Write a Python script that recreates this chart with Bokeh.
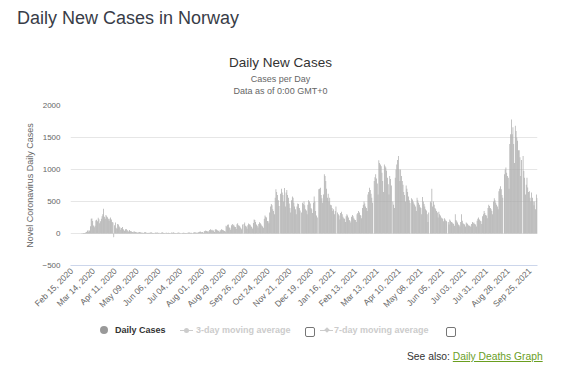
import math
from bokeh.plotting import figure
from bokeh.models import Range1d, FixedTicker, ColumnDataSource, Div
from bokeh.layouts import column
from bokeh.embed import file_html
from bokeh.resources import INLINE

# ---- data (one value per day starting Feb 15, 2020) ----
tick_labels = ["Feb 15, 2020", "Mar 14, 2020", "Apr 11, 2020", "May 09, 2020", "Jun 06, 2020",
               "Jul 04, 2020", "Aug 01, 2020", "Aug 29, 2020", "Sep 26, 2020", "Oct 24, 2020",
               "Nov 21, 2020", "Dec 19, 2020", "Jan 16, 2021", "Feb 13, 2021", "Mar 13, 2021",
               "Apr 10, 2021", "May 08, 2021", "Jun 05, 2021", "Jul 03, 2021", "Jul 31, 2021",
               "Aug 28, 2021", "Sep 25, 2021"]
tick_days = [0, 28, 56, 84, 112, 140, 168, 196, 224, 252, 280, 308, 336, 364, 392,
             420, 448, 476, 504, 532, 560, 588]
y_ticks = [-500, 0, 500, 1000, 1500, 2000]

daily_cases = [
    0, 0, 0, 0, 0, 0, 0,
    0, 0, 0, 0, 1, 0, 5,
    2, 7, 6, 8, 16, 22, 42,
    49, 29, 45, 115, 229, 233, 197,
    125, 98, 120, 205, 215, 190, 245,
    222, 160, 190, 230, 270, 300, 386,
    260, 230, 290, 270, 255, 230, 200,
    230, 250, 220, 180, 170, -60, 130,
    170, 90, 75, 150, 140, 110, 95,
    60, 85, 100, 70, 55, 40, 65,
    70, 50, 45, 30, 55, 40, 35,
    30, 25, 20, 35, 28, 22, 18,
    15, 10, 18, 25, 20, 14, 12,
    10, 8, 15, 22, 18, 12, 9,
    12, 6, 10, 14, 18, 11, 8,
    9, 5, 12, 16, 10, 14, 7,
    11, 4, 9, 13, 20, 15, 8,
    6, 3, 10, 12, 8, 11, 9,
    7, 2, 14, 10, 12, 18, 6,
    8, 3, 9, 11, 15, 10, 7,
    5, 2, 8, 12, 10, 9, 6,
    9, 4, 11, 14, 17, 12, 8,
    10, 5, 13, 20, 18, 15, 12,
    14, 8, 22, 28, 30, 25, 20,
    25, 12, 35, 40, 45, 38, 30,
    40, 20, 55, 65, 50, 58, 45,
    48, 25, 60, 70, 58, 52, 40,
    45, 22, 50, 65, 60, 55, 48,
    40, 30, 120, 110, 135, 140, 95,
    90, 60, 130, 150, 125, 135, 110,
    100, 70, 145, 160, 130, 120, 105,
    85, 65, 140, 0, 150, 170, 120,
    110, 75, 130, 155, 145, 135, 115,
    100, 80, 165, 220, 210, 180, 140,
    120, 95, 150, 175, 160, 140, 120,
    110, 90, 230, 280, 260, 250, 195,
    190, 160, 330, 420, 460, 440, 380,
    350, 300, 560, 690, 650, 600, 520,
    430, 0, 620, 700, 640, 600, 500,
    710, 420, 640, 680, 600, 560, 470,
    400, 330, 520, 580, 560, 480, 420,
    380, 300, 420, 470, 460, 400, 360,
    0, 330, 480, 460, 500, 440, 380,
    360, 300, 450, 520, 500, 470, 400,
    380, 320, 480, 580, 500, 350, 280,
    250, 0, 690, 700, 715, 600, 550,
    480, 610, 925, 900, 820, 700, 560,
    620, 500, 560, 450, 440, 400, 350,
    380, 300, 350, 420, 0, 330, 300,
    280, 220, 320, 340, 300, 260, 240,
    230, 180, 270, 300, 280, 250, 210,
    200, 170, 260, 290, 270, 240, 220,
    210, 180, 300, 320, 350, 330, 290,
    280, 240, 400, 450, 500, 470, 420,
    400, 350, 610, 650, 715, 680, 620,
    560, 480, 0, 820, 880, 925, 860,
    780, 610, 1145, 1100, 1080, 1050, 950,
    820, 650, 1080, 1050, 1030, 980, 870,
    770, 610, 900, 850, 750, 0, 500,
    450, 400, 870, 1000, 1080, 1150, 1210,
    1000, 820, 1000, 900, 820, 760, 650,
    600, 500, 750, 700, 650, 580, 520,
    480, 0, 550, 530, 500, 470, 450,
    420, 350, 560, 520, 480, 450, 410,
    400, 300, 570, 500, 460, 420, 380,
    360, 300, 180, 330, 0, 500, 480,
    700, 420, 500, 450, 400, 380, 350,
    330, 250, 340, 300, 280, 250, 240,
    230, 190, 240, 220, 200, 190, 0,
    180, 140, 220, 200, 180, 170, 160,
    150, 120, 300, 210, 190, 170, 140,
    130, 110, 180, 300, 200, 160, 150,
    140, 110, 170, 160, 150, 130, 120,
    120, 100, 150, 180, 160, 170, 150,
    140, 110, 200, 230, 250, 220, 200,
    190, 150, 270, 300, 350, 320, 290,
    280, 240, 400, 450, 430, 400, 380,
    350, 300, 500, 550, 520, 480, 450,
    420, 380, 660, 700, 740, 690, 600,
    560, 0, 925, 1000, 1030, 950, 900,
    870, 700, 1400, 1550, 1780, 1550, 1660,
    1400, 1100, 1685, 1600, 1500, 1450, 1300,
    1300, 1190, 900, 1150, 0, 1210, 975,
    870, 610, 760, 870, 720, 650, 660,
    560, 500, 640, 560, 500, 440, 500,
    380, 610, 555,
]
days = list(range(len(daily_cases)))

FONT = "Liberation Sans"
PAGE_W = 561
TOP_H = 100      # header block
FIG_H = 215      # chart (axes + bars)
BOT_H = 54       # legend + footer

# ---------------- header (page title + chart titles) ----------------
top_html = f"""
<div style="position:relative;width:{PAGE_W}px;height:{TOP_H}px;font-family:'{FONT}';">
  <div style="position:absolute;left:17px;top:8.8px;font-size:18px;line-height:18px;color:#383c47;white-space:nowrap;">Daily New Cases in Norway</div>
  <div style="position:absolute;left:0;width:{PAGE_W}px;top:56.1px;font-size:13.5px;line-height:13.5px;color:#333333;text-align:center;white-space:nowrap;">Daily New Cases</div>
  <div style="position:absolute;left:0;width:{PAGE_W}px;top:75.4px;font-size:9px;line-height:9px;color:#666666;text-align:center;white-space:nowrap;">Cases per Day</div>
  <div style="position:absolute;left:0;width:{PAGE_W}px;top:87.4px;font-size:9px;line-height:9px;color:#666666;text-align:center;white-space:nowrap;">Data as of 0:00 GMT+0</div>
</div>
"""
header = Div(text=top_html, width=PAGE_W, height=TOP_H, margin=0)

# ---------------- chart ----------------
source = ColumnDataSource(data=dict(day=days, cases=daily_cases))

p = figure(width=PAGE_W, height=FIG_H, output_backend="svg", toolbar_location=None, tools="",
           x_range=Range1d(-1.5, len(days) - 0.5), y_range=Range1d(-500, 2000),
           min_border_left=70, min_border_right=24, min_border_top=5, min_border_bottom=50)
p.outline_line_color = None
p.background_fill_color = "white"
p.border_fill_color = "white"
p.margin = 0

p.vbar(x="day", top="cases", bottom=0, width=0.9, source=source,
       fill_color="#a9a9a9", line_color=None)

p.xgrid.grid_line_color = None
p.ygrid.grid_line_color = "#e6e6e6"
p.yaxis.ticker = FixedTicker(ticks=y_ticks)
p.yaxis.axis_line_color = None
p.yaxis.major_tick_line_color = None
p.yaxis.minor_tick_line_color = None
p.yaxis.major_tick_out = 0
p.yaxis.major_label_standoff = 10
p.yaxis.major_label_text_font = FONT
p.yaxis.major_label_text_font_size = "8px"
p.yaxis.major_label_text_color = "#666666"
p.yaxis.axis_label = "Novel Coronavirus Daily Cases"
p.yaxis.axis_label_text_font = FONT
p.yaxis.axis_label_text_font_size = "9px"
p.yaxis.axis_label_text_font_style = "normal"
p.yaxis.axis_label_text_color = "#666666"
p.yaxis.axis_label_standoff = 4

p.xaxis.ticker = FixedTicker(ticks=tick_days)
p.xaxis.major_label_overrides = {d: t for d, t in zip(tick_days, tick_labels)}
p.xaxis.major_label_orientation = math.pi / 4
p.xaxis.axis_line_color = "#ccd6eb"
p.xaxis.major_tick_line_color = None
p.xaxis.minor_tick_line_color = None
p.xaxis.major_tick_out = 0
p.xaxis.major_label_standoff = 4
p.xaxis.major_label_text_font = FONT
p.xaxis.major_label_text_font_size = "8.5px"
p.xaxis.major_label_text_color = "#666666"

# ---------------- legend + footer ----------------
bot_html = f"""
<div style="position:relative;width:{PAGE_W}px;height:{BOT_H}px;font-family:'{FONT}';">
  <div style="position:absolute;left:100px;top:11px;width:8px;height:8px;border-radius:50%;background:#999999;"></div>
  <div style="position:absolute;left:115px;top:10.9px;font-size:9px;line-height:9px;font-weight:bold;color:#333333;white-space:nowrap;">Daily Cases</div>

  <div style="position:absolute;left:180px;top:14.5px;width:13px;height:1px;background:#cccccc;"></div>
  <div style="position:absolute;left:184px;top:12.5px;width:5px;height:5px;border-radius:50%;background:#cccccc;"></div>
  <div style="position:absolute;left:196px;top:10.9px;font-size:9px;line-height:9px;font-weight:bold;color:#cccccc;white-space:nowrap;">3-day moving average</div>
  <div style="position:absolute;left:305px;top:12px;width:10px;height:10px;box-sizing:border-box;border:1px solid #767676;border-radius:2px;background:white;"></div>

  <div style="position:absolute;left:320px;top:14.5px;width:13px;height:1px;background:#cccccc;"></div>
  <div style="position:absolute;left:324.5px;top:13px;width:4px;height:4px;transform:rotate(45deg);background:#cccccc;"></div>
  <div style="position:absolute;left:334px;top:10.9px;font-size:9px;line-height:9px;font-weight:bold;color:#cccccc;white-space:nowrap;">7-day moving average</div>
  <div style="position:absolute;left:446px;top:12px;width:10px;height:10px;box-sizing:border-box;border:1px solid #767676;border-radius:2px;background:white;"></div>

  <div style="position:absolute;left:407px;top:37.3px;font-size:10.3px;line-height:10.3px;color:#333333;white-space:nowrap;">See also: <span style="color:#6a9e1f;text-decoration:underline;">Daily Deaths Graph</span></div>
</div>
"""
footer = Div(text=bot_html, width=PAGE_W, height=BOT_H, margin=0)

layout = column(header, p, footer, spacing=0, margin=0)

open("out.html", "w").write(file_html(layout, INLINE))
